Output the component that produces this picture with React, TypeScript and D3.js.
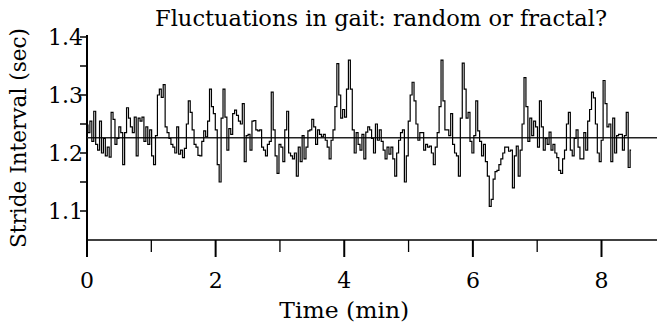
import React from 'react';
import * as d3 from 'd3';

const TIME_STEP = 0.03;

const strideSeg1 = [
  1.248, 1.235, 1.255, 1.22, 1.272, 1.215, 1.205, 1.255, 1.2, 1.225,
  1.195, 1.21, 1.193, 1.27, 1.258, 1.215, 1.225, 1.245, 1.235, 1.18,
  1.235, 1.278, 1.26, 1.245, 1.235, 1.262, 1.195, 1.26, 1.255, 1.262,
  1.22, 1.245, 1.215, 1.24, 1.195, 1.18, 1.23, 1.3, 1.31, 1.296,
  1.318, 1.245, 1.235, 1.225, 1.215, 1.21, 1.2,
];
const strideSeg2 = [
  1.245, 1.198, 1.205, 1.192, 1.208, 1.25, 1.29, 1.27, 1.24, 1.215,
  1.21, 1.196, 1.195, 1.22, 1.238, 1.228, 1.255, 1.31, 1.28, 1.268,
  1.24, 1.18, 1.15, 1.26, 1.31, 1.262, 1.205, 1.242, 1.232, 1.268,
  1.274, 1.265, 1.255, 1.25, 1.285, 1.185, 1.23, 1.232, 1.205, 1.255,
  1.256, 1.24, 1.238, 1.24, 1.21, 1.205,
];
const strideSeg3 = [
  1.195, 1.215, 1.22, 1.305, 1.24, 1.195, 1.165, 1.215, 1.21, 1.185,
  1.24, 1.272, 1.2, 1.195, 1.19, 1.2, 1.16, 1.21, 1.185, 1.23,
  1.19, 1.21, 1.238, 1.24, 1.258, 1.245, 1.215, 1.24, 1.232, 1.228,
  1.232, 1.222, 1.21, 1.19, 1.222, 1.24, 1.28, 1.354, 1.3, 1.26,
  1.275, 1.262, 1.31, 1.36, 1.31, 1.24, 1.2,
];
const strideSeg4 = [
  1.235, 1.215, 1.205, 1.232, 1.19, 1.236, 1.245, 1.24, 1.225, 1.2,
  1.25, 1.222, 1.24, 1.22, 1.205, 1.19, 1.21, 1.198, 1.21, 1.19,
  1.16, 1.2, 1.222, 1.235, 1.24, 1.15, 1.195, 1.255, 1.3, 1.322,
  1.29, 1.25, 1.222, 1.235, 1.235, 1.205, 1.215, 1.21, 1.212, 1.2,
  1.18, 1.21, 1.235, 1.28, 1.36, 1.29, 1.24,
];
const strideSeg5 = [
  1.24, 1.23, 1.268, 1.215, 1.2, 1.195, 1.16, 1.26, 1.355, 1.31,
  1.26, 1.27, 1.22, 1.2, 1.23, 1.29, 1.238, 1.22, 1.195, 1.215,
  1.185, 1.16, 1.108, 1.12, 1.155, 1.168, 1.17, 1.18, 1.19, 1.2,
  1.21, 1.21, 1.203, 1.205, 1.14, 1.195, 1.212, 1.16, 1.205, 1.25,
  1.33, 1.28, 1.22, 1.26, 1.23, 1.255,
];
const strideSeg6 = [
  1.245, 1.21, 1.29, 1.245, 1.205, 1.225, 1.215, 1.236, 1.205, 1.215,
  1.2, 1.192, 1.17, 1.165, 1.19, 1.205, 1.25, 1.27, 1.205, 1.195,
  1.225, 1.24, 1.21, 1.19, 1.19, 1.235, 1.205, 1.255, 1.275, 1.305,
  1.295, 1.25, 1.2, 1.185, 1.222, 1.325, 1.285, 1.245, 1.25, 1.185,
  1.26, 1.2, 1.23, 1.232, 1.232, 1.205, 1.23, 1.27, 1.175, 1.205,
];

const MEAN_INTERVAL = 1.2265;
const Y_BASE = 1.05;

const xTicks = [0, 1, 2, 3, 4, 5, 6, 7, 8];
const xTickLabels = [0, 2, 4, 6, 8];
const yTicks = [1.1, 1.15, 1.2, 1.25, 1.3, 1.35, 1.4];
const yTickLabels = ['1.1', '1.2', '1.3', '1.4'];

const TITLE = 'Fluctuations in gait: random or fractal?';
const X_LABEL = 'Time (min)';
const Y_LABEL = 'Stride Interval (sec)';

const W = 657;
const H = 325;
const FONT = 'DejaVu Serif, serif';

export default function App() {
  const strides = [...strideSeg1, ...strideSeg2, ...strideSeg3, ...strideSeg4, ...strideSeg5, ...strideSeg6];
  const points: [number, number][] = strides.map((v, i) => [i * TIME_STEP, v]);

  const x = d3.scaleLinear().domain([0, 8]).range([87, 601.5]);
  const y = d3.scaleLinear().domain([1.1, 1.4]).range([211, 37]);

  const line = d3.line<[number, number]>()
    .x(d => x(d[0]))
    .y(d => y(d[1]))
    .curve(d3.curveStep);

  const x0 = x(0);
  const yb = y(Y_BASE);
  const txt = { fontFamily: FONT, fill: '#000' };

  return (
    <div style={{ position: 'absolute', left: 0, top: 0 }}>
      <svg width={W} height={H} style={{ display: 'block', background: '#fff' }}>
        <text x={381} y={26} textAnchor="middle" style={{ ...txt, fontSize: 23 }}
          textLength={452} lengthAdjust="spacingAndGlyphs">
          {TITLE}
        </text>

        {/* y axis */}
        <line x1={x0} x2={x0} y1={y(1.4) - 2} y2={yb + 17} stroke="#000" strokeWidth={2} />
        {yTicks.map(t => (
          <line key={t} x1={x0 - 7} x2={x0} y1={y(t)} y2={y(t)} stroke="#000" strokeWidth={1.5} />
        ))}
        {yTickLabels.map(t => (
          <text key={t} x={x0 - 4} y={y(+t)} dy="0.36em" textAnchor="end"
            style={{ ...txt, fontSize: 22 }}>{t}</text>
        ))}
        <text transform={`translate(26,${138}) rotate(-90)`} textAnchor="middle"
          style={{ ...txt, fontSize: 23 }} textLength={220} lengthAdjust="spacingAndGlyphs">{Y_LABEL}</text>

        {/* baseline + x ticks */}
        <line x1={x0} x2={W} y1={yb} y2={yb} stroke="#000" strokeWidth={1.5} />
        {xTicks.map(t => (
          <line key={t} x1={x(t)} x2={x(t)} y1={yb} y2={yb + (t % 2 === 0 ? 17 : 12)}
            stroke="#000" strokeWidth={t % 2 === 0 ? 2 : 1.3} />
        ))}
        {xTickLabels.map(t => (
          <text key={t} x={x(t)} y={288} textAnchor="middle"
            style={{ ...txt, fontSize: 22 }}>{t}</text>
        ))}
        <text x={x(4)} y={318} textAnchor="middle" style={{ ...txt, fontSize: 23 }}
          textLength={130} lengthAdjust="spacingAndGlyphs">
          {X_LABEL}
        </text>

        {/* mean level */}
        <line x1={x0} x2={W} y1={y(MEAN_INTERVAL)} y2={y(MEAN_INTERVAL)} stroke="#222" strokeWidth={1.5} />

        <path d={line(points) || ''} fill="none" stroke="#000" strokeWidth={1.2} />
      </svg>
    </div>
  );
}
